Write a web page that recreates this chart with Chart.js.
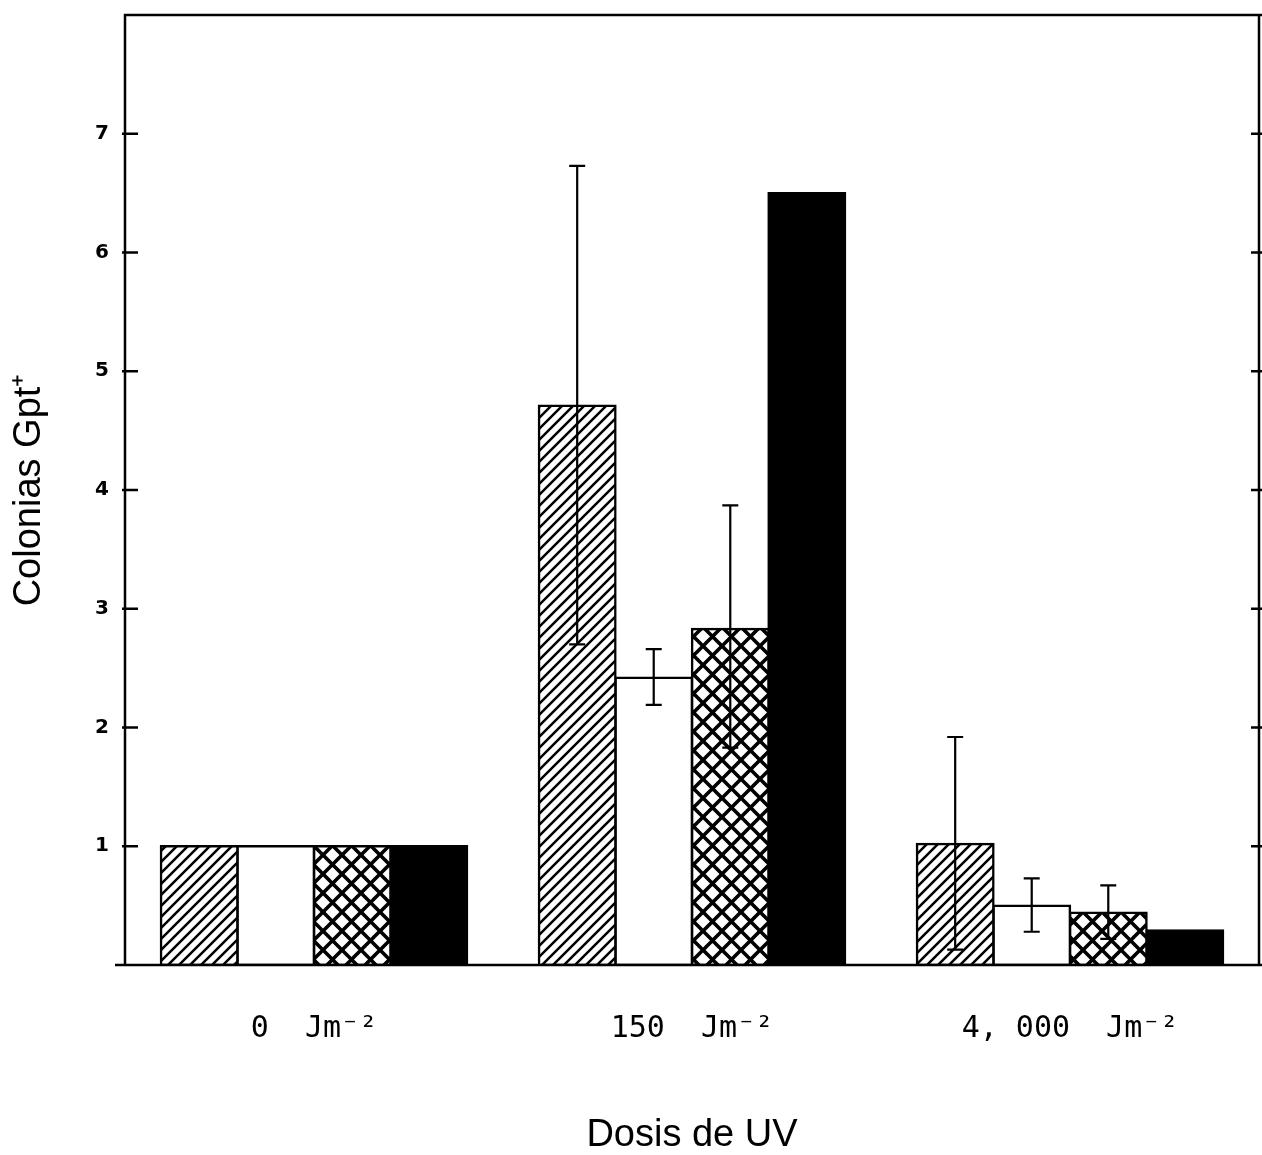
<!DOCTYPE html>
<html>
<head>
<meta charset="utf-8">
<script src="https://cdn.jsdelivr.net/npm/chart.js@4.4.1/dist/chart.umd.min.js"></script>
<style>
  html, body { margin: 0; padding: 0; background: #fff; }
  #wrap { width: 1262px; height: 1155px; }
</style>
</head>
<body>
<div id="wrap"><canvas id="c"></canvas></div>
<script>
// UV dose groups and the four series
const doses = ['0  Jm\u207B\u00B2', '150  Jm\u207B\u00B2', '4, 000  Jm\u207B\u00B2'];
const hatched = [1, 4.71, 1.02];
const open = [1, 2.42, 0.50];
const crossed = [1, 2.83, 0.44];
const solid = [1, 6.50, 0.29];

// error bar extents [low, high], null = none drawn
const hatchedErr = [null, [2.70, 6.73], [0.13, 1.92]];
const openErr = [null, [2.19, 2.66], [0.28, 0.73]];
const crossedErr = [null, [1.83, 3.87], [0.22, 0.67]];

const yTicks = [1, 2, 3, 4, 5, 6, 7];

function hatchPattern(d, w) {
  const c = document.createElement('canvas');
  c.width = d; c.height = d;
  const g = c.getContext('2d');
  g.fillStyle = '#fff';
  g.fillRect(0, 0, d, d);
  g.strokeStyle = '#000';
  g.lineWidth = w;
  g.beginPath();
  for (const o of [-d, 0, d]) {
    g.moveTo(o - w, d + w);
    g.lineTo(o + d + w, -w);
  }
  g.stroke();
  return g.createPattern(c, 'repeat');
}

function crossPattern(d, w) {
  const c = document.createElement('canvas');
  c.width = d; c.height = d;
  const g = c.getContext('2d');
  g.fillStyle = '#fff';
  g.fillRect(0, 0, d, d);
  g.strokeStyle = '#000';
  g.lineWidth = w;
  g.beginPath();
  for (const o of [-d, 0, d]) {
    g.moveTo(o - w, -w);
    g.lineTo(o + d + w, d + w);
    g.moveTo(o + d + w, -w);
    g.lineTo(o - w, d + w);
  }
  g.stroke();
  return g.createPattern(c, 'repeat');
}

// box frame, inward ticks and error bars
const framePlugin = {
  id: 'frame',
  afterDatasetsDraw(chart) {
    const { ctx, chartArea: a, scales: { y } } = chart;
    ctx.save();
    ctx.strokeStyle = '#000';
    ctx.lineWidth = 2.5;
    ctx.lineCap = 'butt';
    ctx.beginPath();
    ctx.moveTo(a.left - 10, a.bottom); ctx.lineTo(chart.width, a.bottom);
    ctx.moveTo(a.left, a.bottom); ctx.lineTo(a.left, a.top);
    ctx.lineTo(chart.width, a.top);
    ctx.moveTo(a.right, a.top); ctx.lineTo(a.right, a.bottom);
    for (const v of yTicks) {
      const py = y.getPixelForValue(v);
      ctx.moveTo(a.left - 3, py); ctx.lineTo(a.left + 13, py);
      ctx.moveTo(a.right - 8, py); ctx.lineTo(chart.width, py);
    }
    ctx.stroke();

    ctx.lineWidth = 2.2;
    chart.data.datasets.forEach((ds, di) => {
      if (!ds.errors) return;
      const meta = chart.getDatasetMeta(di);
      ds.errors.forEach((e, i) => {
        if (!e) return;
        const x = meta.data[i].x;
        const lo = y.getPixelForValue(e[0]);
        const hi = y.getPixelForValue(e[1]);
        ctx.beginPath();
        ctx.moveTo(x, lo); ctx.lineTo(x, hi);
        ctx.moveTo(x - 8, hi); ctx.lineTo(x + 8, hi);
        ctx.moveTo(x - 8, lo); ctx.lineTo(x + 8, lo);
        ctx.stroke();
      });
    });
    ctx.restore();
  },
};

const barStyle = { borderColor: '#000', borderWidth: 2.5, borderSkipped: false, inflateAmount: 1.2 };

new Chart(document.getElementById('c'), {
  type: 'bar',
  data: {
    labels: doses,
    datasets: [
      { label: 'A', data: hatched, errors: hatchedErr, backgroundColor: hatchPattern(11, 2.5), ...barStyle },
      { label: 'B', data: open, errors: openErr, backgroundColor: '#fff', ...barStyle },
      { label: 'C', data: crossed, errors: crossedErr, backgroundColor: crossPattern(19, 3.6), ...barStyle },
      { label: 'D', data: solid, backgroundColor: '#000', ...barStyle },
    ],
  },
  options: {
    responsive: true,
    maintainAspectRatio: false,
    animation: false,
    events: [],
    layout: { padding: { left: 5, right: 3, top: 15, bottom: 0 } },
    datasets: { bar: { categoryPercentage: 0.81, barPercentage: 1.0 } },
    plugins: { legend: { display: false }, tooltip: { enabled: false } },
    scales: {
      x: {
        grid: { display: false },
        border: { display: false },
        ticks: {
          color: '#000',
          padding: 38,
          font: { family: '"DejaVu Sans Mono", monospace', size: 30 },
        },
        title: {
          display: true,
          text: 'Dosis de UV',
          color: '#000',
          padding: { top: 1, bottom: 0 },
          font: { family: '"Liberation Sans", Arial, sans-serif', size: 38, lineHeight: 1 },
        },
        afterFit(scale) { scale.height = 190; },
      },
      y: {
        min: 0,
        max: 8,
        grid: { display: false },
        border: { display: false },
        ticks: {
          stepSize: 1,
          color: '#000',
          padding: 8,
          font: { family: '"DejaVu Sans", sans-serif', size: 20, weight: 'bold' },
          callback: (v) => (yTicks.includes(v) ? v : ''),
        },
        title: {
          display: true,
          text: 'Colonias Gpt\u207A',
          color: '#000',
          padding: { top: 6, bottom: 0 },
          font: { family: '"Liberation Sans", Arial, sans-serif', size: 38, lineHeight: 1 },
        },
        afterFit(scale) {
          scale.width = 120;
          scale.paddingTop = 0;
          scale.paddingBottom = 0;
        },
      },
    },
  },
  plugins: [framePlugin],
});
</script>
</body>
</html>
